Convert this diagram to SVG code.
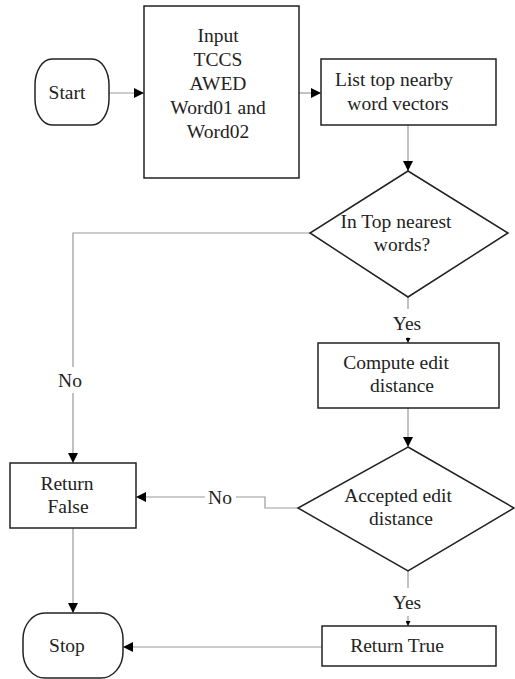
<svg xmlns="http://www.w3.org/2000/svg" width="515" height="679" viewBox="0 0 515 679">
<defs>
<marker id="ah" viewBox="0 0 10 10" refX="10" refY="5" markerWidth="10" markerHeight="10" markerUnits="userSpaceOnUse" orient="auto">
<path d="M0,0 L10,5 L0,10 Z" fill="#000"/>
</marker>
<marker id="ahs" viewBox="0 0 10 10" refX="10" refY="5" markerWidth="5" markerHeight="5" markerUnits="userSpaceOnUse" orient="auto">
<path d="M0,0 L10,5 L0,10 Z" fill="#000"/>
</marker>
</defs>
<style>
.n{fill:#fff;stroke:#222;stroke-width:1.5}
.c{fill:none;stroke:#999;stroke-width:1.2}
.lb{fill:#fff;stroke:none}
text{font-family:"Liberation Serif","Times New Roman",serif;font-size:19.5px;fill:#222;text-anchor:middle}
</style>
<rect width="515" height="679" fill="#fff"/>
<g id="connectors">
<path class="c" d="M109,93 H144" marker-end="url(#ah)"/>
<path class="c" d="M299,93 H321" marker-end="url(#ah)"/>
<path class="c" d="M408,125 V171" marker-end="url(#ah)"/>
<path class="c" d="M310,233 H73 V463" marker-end="url(#ah)"/>
<path class="c" d="M408,297 V343" marker-end="url(#ahs)"/>
<path class="c" d="M408,408 V447" marker-end="url(#ah)"/>
<path class="c" d="M298,508 H265 V497 H136" marker-end="url(#ah)"/>
<path class="c" d="M73,528 V613" marker-end="url(#ah)"/>
<path class="c" d="M408,571 V626" marker-end="url(#ahs)"/>
<path class="c" d="M322,647 H123" marker-end="url(#ah)"/>
<rect class="lb" x="392" y="309" width="32" height="28"/>
<text x="407" y="330">Yes</text>
<rect class="lb" x="55" y="367" width="30" height="26"/>
<text x="70" y="387">No</text>
<rect class="lb" x="205" y="485" width="31" height="24"/>
<text x="220" y="504">No</text>
<rect class="lb" x="392" y="588" width="32" height="28"/>
<text x="407" y="609">Yes</text>
</g>
<g id="start">
<rect class="n" x="35" y="59" width="74" height="66" rx="17" ry="26"/>
<text x="67" y="99">Start</text>
</g>
<g id="input">
<rect class="n" x="144" y="6" width="155" height="172"/>
<text x="218" y="42">Input</text>
<text x="218" y="66">TCCS</text>
<text x="218" y="90">AWED</text>
<text x="218" y="114">Word01 and</text>
<text x="218" y="138">Word02</text>
</g>
<g id="list">
<rect class="n" x="321" y="59" width="175" height="66"/>
<text x="394" y="86">List top nearby</text>
<text x="398" y="110">word vectors</text>
</g>
<g id="decision1">
<polygon class="n" points="408,171 508,233 408,297 310,233"/>
<text x="396" y="228">In Top nearest</text>
<text x="402" y="251">words?</text>
</g>
<g id="compute">
<rect class="n" x="318" y="343" width="181" height="65"/>
<text x="396" y="369">Compute edit</text>
<text x="402" y="392">distance</text>
</g>
<g id="decision2">
<polygon class="n" points="408,447 514,508 408,571 298,508"/>
<text x="398" y="502">Accepted edit</text>
<text x="401" y="525">distance</text>
</g>
<g id="returnfalse">
<rect class="n" x="10" y="463" width="126" height="65"/>
<text x="67" y="490">Return</text>
<text x="68" y="513">False</text>
</g>
<g id="returntrue">
<rect class="n" x="322" y="626" width="174" height="40"/>
<text x="397" y="652">Return True</text>
</g>
<g id="stop">
<rect class="n" x="23" y="613" width="100" height="65" rx="22" ry="26"/>
<text x="67" y="652">Stop</text>
</g>
</svg>
